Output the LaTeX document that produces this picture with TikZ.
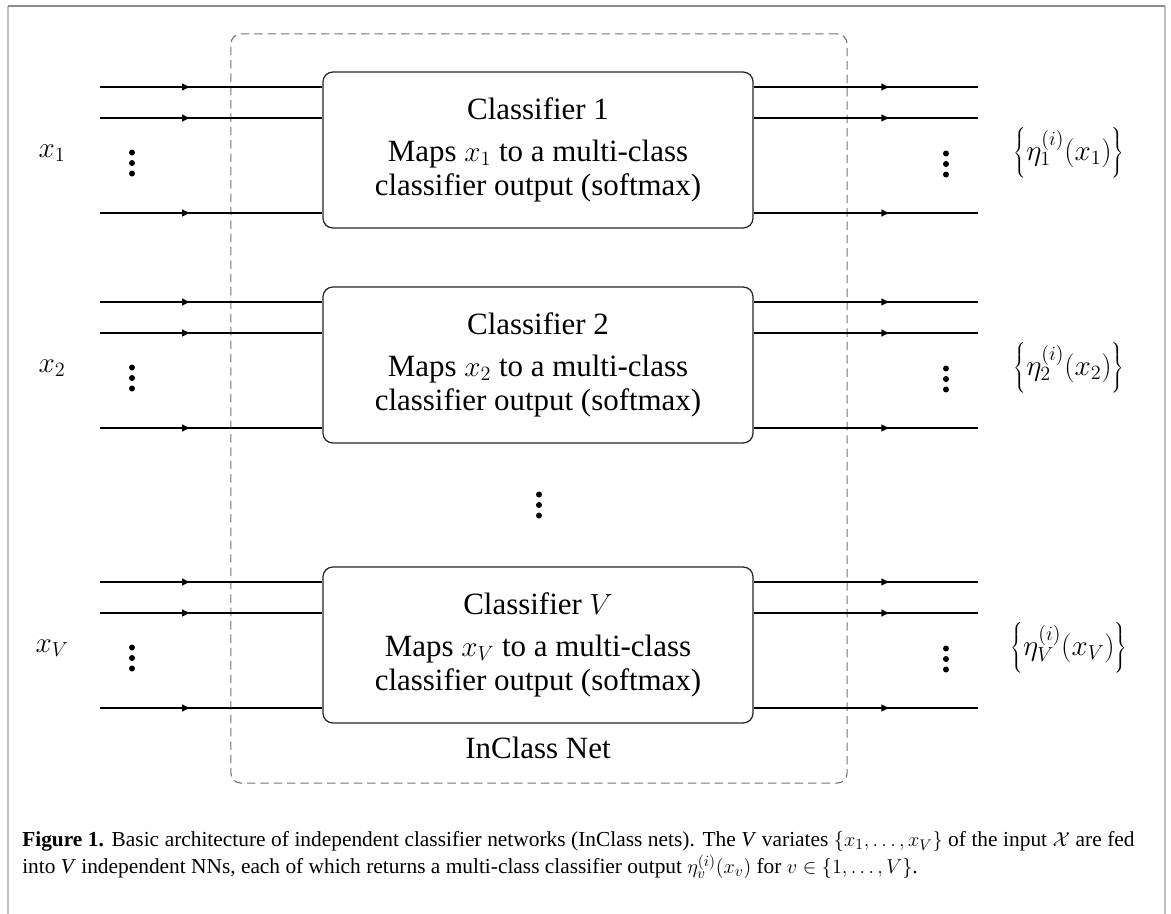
\documentclass[tikz,border=0pt]{standalone}
\usepackage{fontspec}
\newfontfamily\capfont{Liberation Serif}
\newfontfamily\boxfont{Liberation Serif}
\usetikzlibrary{arrows.meta,decorations.markings}

\newcommand{\tallstrut}{\vcenter{\hrule height 19pt depth 19pt width 0pt}}

\tikzset{
  clsbox/.style={draw=black!85, line width=0.9pt, rounded corners=0.25cm,
    minimum width=10.75cm, minimum height=3.9cm, align=center,
    font=\boxfont\fontsize{22}{24.5}\selectfont},
  netbox/.style={draw=black!55, line width=0.8pt, dash pattern=on 6pt off 3.5pt,
    rounded corners=0.25cm, minimum width=15.4cm, minimum height=18.725cm},
  lbl/.style={font=\fontsize{22}{24}\selectfont},
  sig/.style={line width=1.4pt, postaction={decorate},
    decoration={markings, mark=at position #1 with {\arrow{Latex[length=6.5pt,width=5.5pt]}}}},
}

\begin{document}
\begin{tikzpicture}[x=0.025cm, y=-0.025cm]
  \useasboundingbox (0,0) rectangle (1171,914);
  \draw[black!25, line width=1.4pt] (8,914) -- (8,6);
  \draw[black!25, line width=1.4pt] (1165,6) -- (1165,914);
  \draw[black!45, line width=1pt] (8,6) -- (1165,6);

  \node[netbox] (net) at (539,408.5) {};
  \node[lbl, font=\boxfont\fontsize{22}{24}\selectfont] (netname) at (538,748) {InClass Net};

  \foreach \r/\t/\cy in {1/1/150, 2/2/365, V/$V$/645} {
    \node[clsbox] (cls\r) at (538,\cy)
      {Classifier \t\\[5pt] Maps $x_{\r}$ to a multi-class\\ classifier output (softmax)};
    \node[lbl] (xin\r) at (52,{\cy+3}) {$x_{\r}$};
    \node[lbl] (eta\r) at (1069,{\cy+3}) {$\left\{\tallstrut\eta_{\r}^{(i)}(x_{\r})\right\}$};
    \foreach \j/\off in {a/-63, b/-32, c/63} {
      \coordinate (in\r\j) at (100,{\cy+\off});
      \coordinate (out\r\j) at (978,{\cy+\off});
      \draw[sig=0.41] (in\r\j) -- (in\r\j -| cls\r.west);
      \draw[sig=0.61] (cls\r.east |- out\r\j) -- (out\r\j);
    }
    \foreach \d in {-10.5,0,10.5} {
      \fill (132,{\cy+13+\d}) circle (3);
      \fill (946,{\cy+14+\d}) circle (3);
    }
  }
  \foreach \d in {-10.5,0,10.5}
    \fill (539,{505+\d}) circle (3);

  \node[anchor=north west, inner sep=0pt, text width=791pt, align=justify,
    font=\capfont\fontsize{15.2}{19.2}\selectfont] (caption) at (22,831)
    {\textbf{Figure 1.} Basic architecture of independent classifier networks (InClass nets). The \textit{V} variates $\{x_1,\dots,x_V\}$ of the input $\mathcal{X}$ are fed\linebreak
     into \textit{V} independent NNs, each of which returns a multi-class classifier output $\eta_v^{\smash{(i)}}(x_v)$ for $v\in\{1,\dots,V\}$.};
\end{tikzpicture}
\end{document}
